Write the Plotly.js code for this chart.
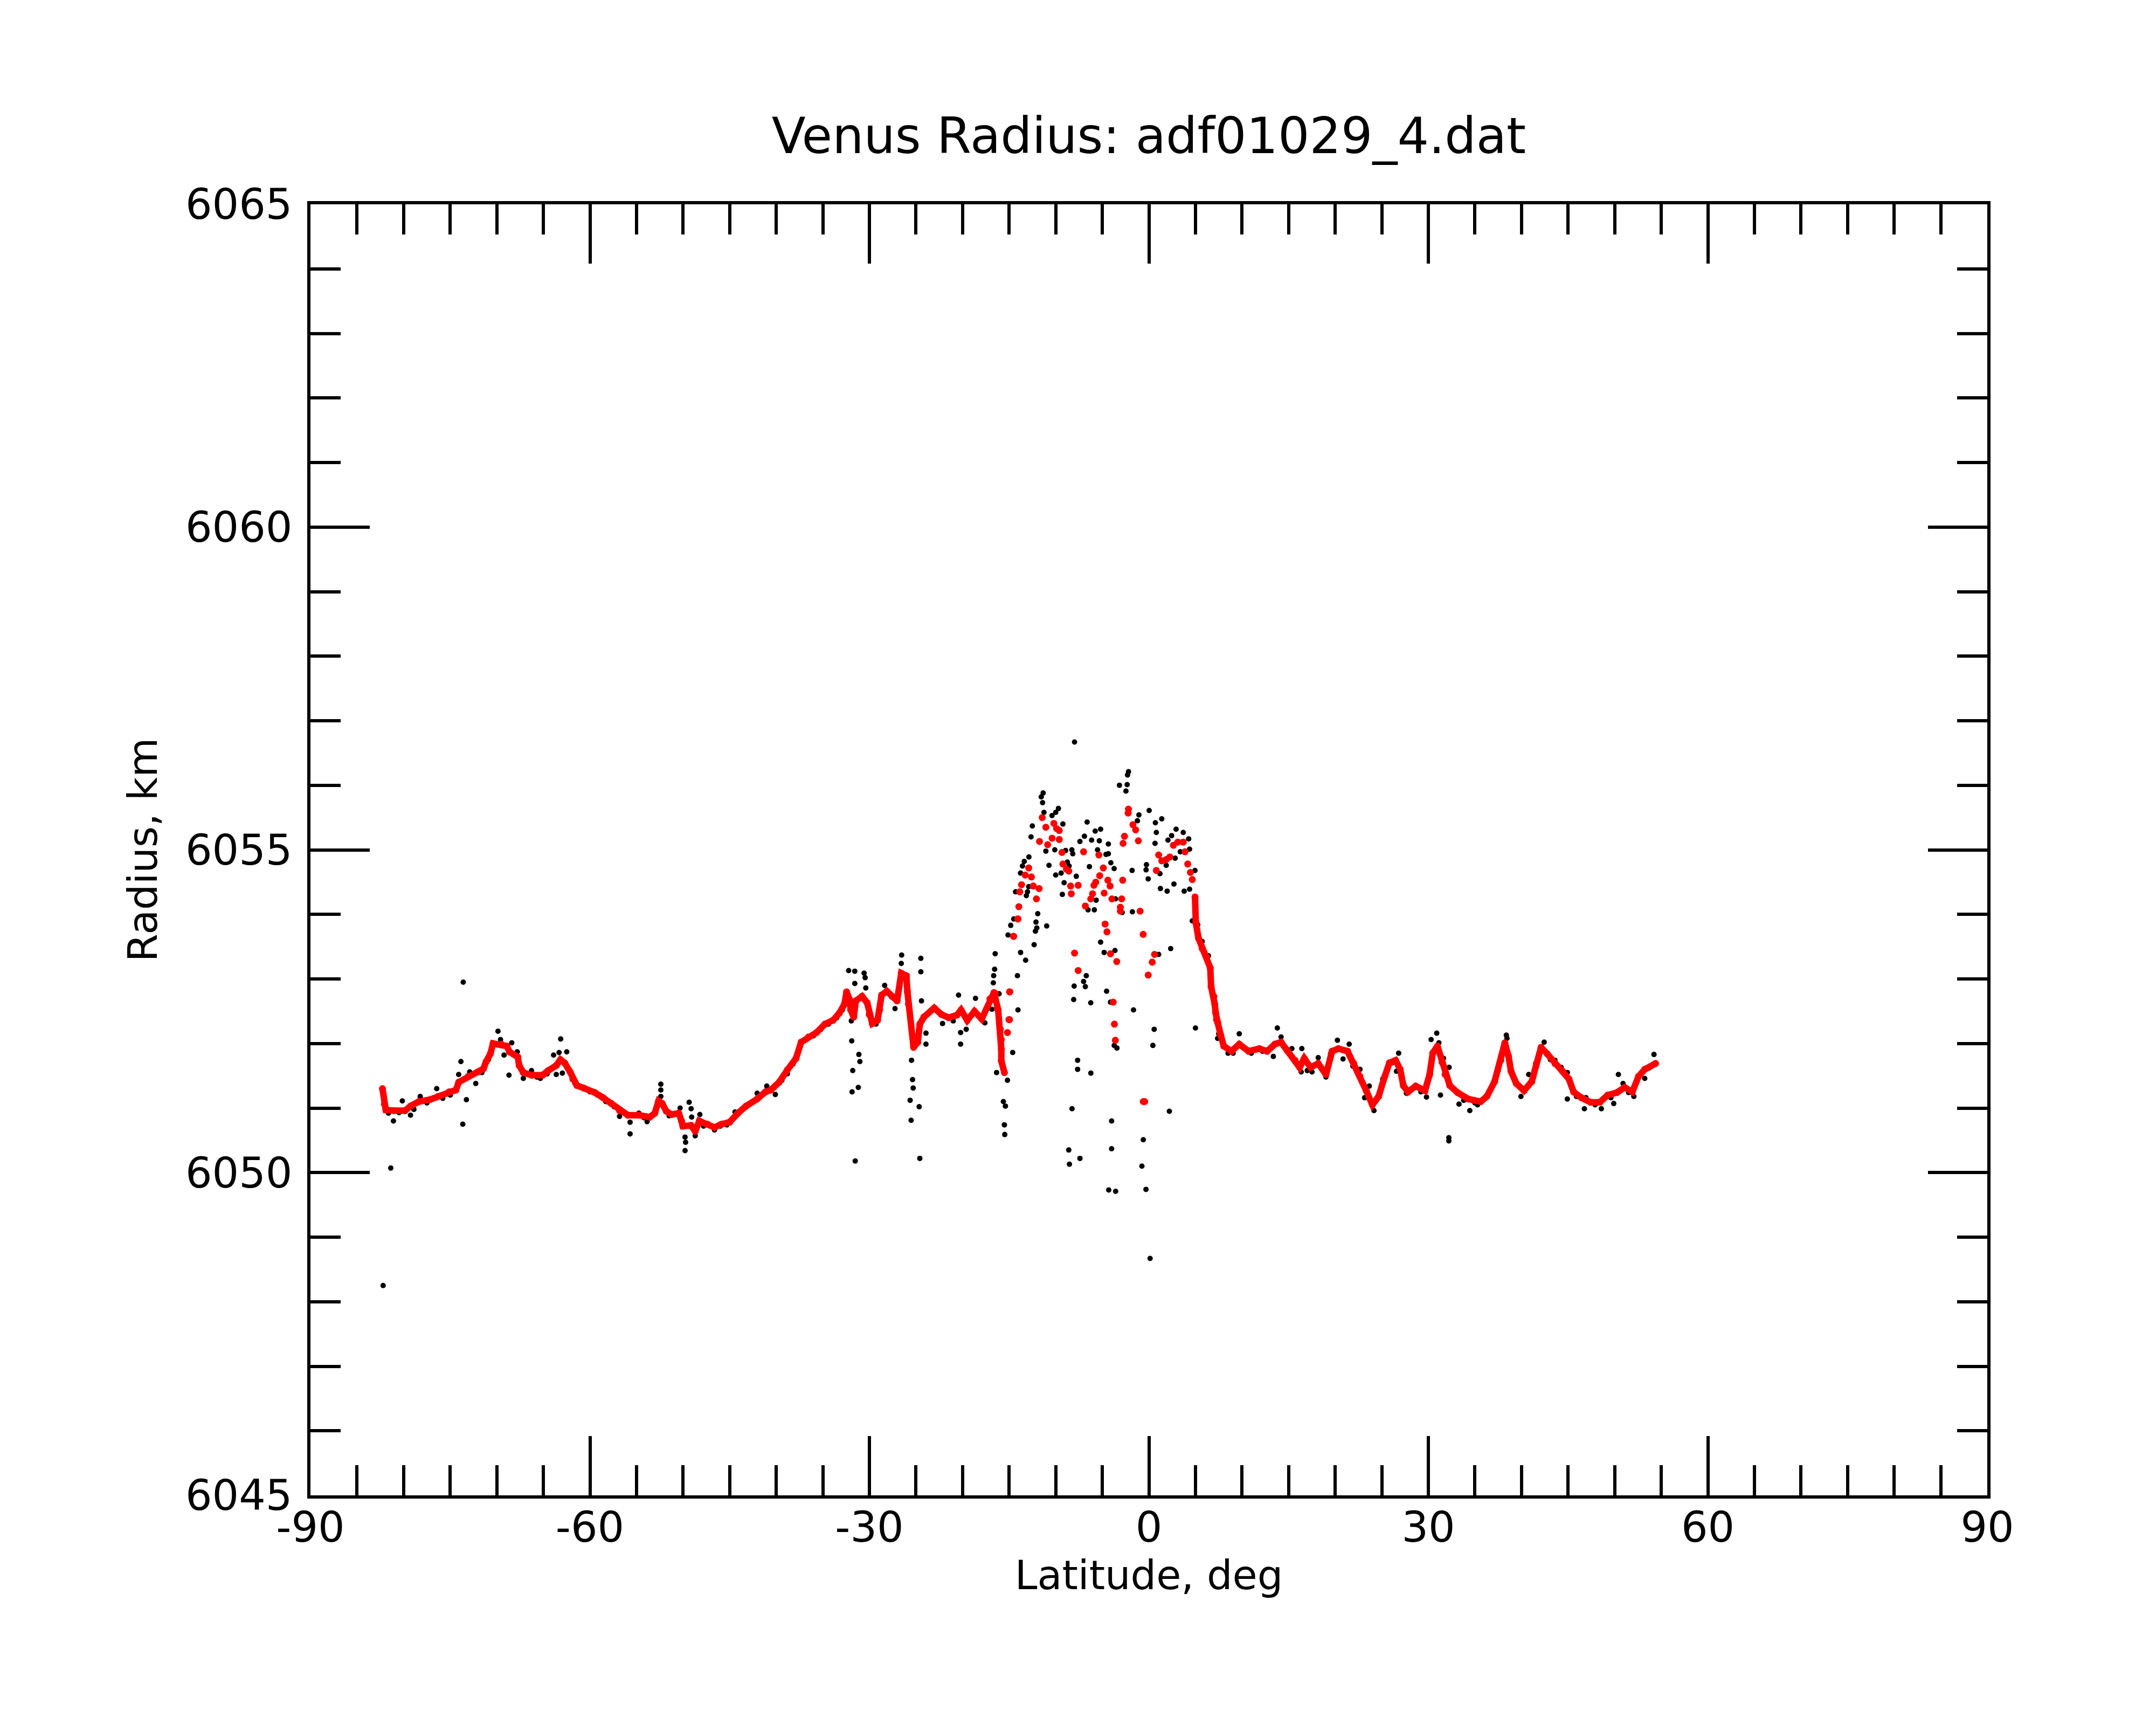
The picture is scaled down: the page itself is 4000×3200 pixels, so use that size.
<!DOCTYPE html>
<html>
<head>
<meta charset="utf-8">
<script src="https://cdn.plot.ly/plotly-3.0.1.min.js"></script>
<style>
  html, body { margin: 0; padding: 0; background: #fff; }
  #chart { width: 4000px; height: 3200px; }
</style>
</head>
<body>
<div id="chart"></div>
<script>
// Axis tick labels (plain hyphen minus, as in the original plot)
var latTicks = [-90, -60, -30, 0, 30, 60, 90];
var latTickText = ['-90', '-60', '-30', '0', '30', '60', '90'];

// Raw radius samples (black dots)
var rawLat = [
  -82.2, -81.62, -81.38, -81.09, -80.5, -80.14, -79.26, -78.9, -78.22, -77.5, -76.45, -75.8, -75.0,
  -74.09, -73.85, -73.65, -73.6, -73.26, -72.91, -72.26, -71.6, -70.9, -69.87, -69.6, -69.22, -68.69,
  -68.39, -67.8, -67.15, -66.27, -65.7, -65.32, -64.6, -63.9, -63.61, -63.31, -63.14, -62.96, -62.49,
  -61.6, -60.95, -60.0, -59.2, -58.3, -57.4, -56.82, -55.69, -55.69, -54.75, -54.2, -53.86, -52.39,
  -52.39, -52.39, -51.5, -50.32, -49.79, -49.73, -49.79, -49.35, -49.14, -49.08, -48.7, -48.2, -47.8,
  -46.63, -46.0, -45.3, -44.42, -43.6, -42.8, -42.05, -41.02, -40.1, -39.4, -38.81, -38.2, -37.6,
  -36.9, -36.0, -35.2, -34.4, -33.5, -32.9,
  -32.23, -31.94, -31.9, -31.86, -31.79, -31.57, -31.57, -31.52, -31.19, -31.13, -31.02, -30.57,
  -30.46, -30.39, -29.9, -29.3, -28.36, -27.25, -26.58, -26.54, -25.63, -25.52, -25.48, -25.37,
  -25.3, -24.66, -24.59, -24.48, -24.48, -24.41, -23.93, -23.93, -23.5, -22.15, -21.0, -20.43,
  -20.21, -20.21, -19.61, -19.0, -18.61, -17.6, -16.35, -15.62, -15.51, -15.47, -15.4, -15.18,
  -14.62, -8.6, -8.53, -8.25, -7.65, -7.65, -7.4,
  -7.98, -2.19, -2.29, -3.16, -2.33, -2.46, -11.35, -11.55, -11.41, -11.26, -9.71, -10.0, -10.4,
  -9.23, -12.51, -12.65, 0.03, -1.07, -1.23, 1.38, 0.7, -6.63, -5.76, -5.18, -6.92, -7.4, -6.15,
  -5.32, -4.35, 0.8, 0.66, 2.92, 3.69, 2.44, 2.05, 4.27, 4.37, 4.95, 3.37, -11.06, -10.1, -8.94,
  -8.27, -8.17, -5.51, -4.6, -4.35, -12.88, -13.38, -13.57, -13.78, -10.72, -8.75, -8.56, -10.0,
  -9.42, -7.79, -6.38, -4.08, -3.73, -1.8, -0.26, -0.3, -0.07, 1.19, 2.82, 1.86, 2.69, 1.24, 1.96,
  3.79, 4.37, 4.66, 5.24, 5.72, 6.01, 6.39, -9.1, -9.29, -12.9, -13.03, -13.15, -14.31, -5.66,
  -6.53, -5.86, -3.58, -2.87, -1.77, -11.93, -12.12, -12.03, -12.18, -10.97, -12.32, -14.5, -14.83,
  -15.12, -16.5, -16.56, -16.66, -16.7, -13.77, -13.23, -14.11, -5.18, -4.8, -3.64, 1.05, 2.34,
  -6.72, -7.01, -6.82, -8.02, -8.07, -6.24, -4.54, -4.12, -1.65, -16.08, -14.05, -16.85, -14.92,
  -6.23, -4.31, -3.57, -4.0, -4.0, -3.72, -3.43, -0.75, -0.6, -0.31, 0.13, 0.43, 0.57, 2.2, 5.0,
  6.9, 7.2, 7.5, 7.38, 8.5, 9.04, 9.7, 11.0, 12.2, 13.36, 13.79, 14.19, 15.35, 16.42, 16.35, 17.0,
  17.51, 18.18, 19.01, 19.5, 20.24, 20.84, 21.5, 21.9, 22.66, 23.16, 23.66, 24.16, 25.1, 26.1,
  26.58, 26.81, 27.64, 28.2, 29.2, 29.8, 30.3, 30.9, 31.13, 31.3, 31.63, 32.23, 32.2, 32.2, 33.29,
  33.8, 34.45, 35.0, 35.29, 36.7, 37.5, 38.37, 38.44, 39.94, 40.77, 41.3, 42.43, 43.1, 43.59,
  44.25, 44.92, 44.92, 45.9, 46.75, 46.92, 47.9, 48.57, 49.6, 49.9, 50.4, 50.9, 51.5, 52.06,
  53.23, 53.7, 54.22
];
var rawRad = [
  6048.25, 6050.92, 6050.07, 6050.80, 6050.93, 6051.11, 6050.89, 6050.98, 6051.18, 6051.08, 6051.30, 6051.15, 6051.20,
  6051.52, 6051.72, 6050.75, 6052.95, 6051.13, 6051.56, 6051.38, 6051.55, 6051.75, 6052.19, 6052.06, 6051.82, 6051.51,
  6052.01, 6051.87, 6051.46, 6051.58, 6051.48, 6051.46, 6051.53, 6051.82, 6051.52, 6051.86, 6052.07, 6051.54, 6051.87,
  6051.38, 6051.32, 6051.25, 6051.20, 6051.10, 6051.02, 6050.87, 6050.78, 6050.60, 6050.92, 6050.85, 6050.79, 6051.37,
  6051.28, 6051.18, 6050.88, 6051.00, 6050.55, 6050.47, 6050.34, 6051.09, 6050.99, 6050.86, 6050.57, 6050.90, 6050.72,
  6050.66, 6050.72, 6050.74, 6050.94, 6050.98, 6051.08, 6051.23, 6051.34, 6051.21, 6051.43, 6051.53, 6051.68, 6051.88,
  6052.05, 6052.12, 6052.22, 6052.30, 6052.40, 6052.52,
  6053.13, 6052.35, 6052.04, 6051.25, 6051.58, 6053.12, 6052.93, 6050.18, 6051.32, 6051.83, 6051.72, 6053.09,
  6053.02, 6052.86, 6052.40, 6052.30, 6052.90, 6052.54, 6053.24, 6053.37, 6051.12, 6050.81, 6051.74, 6051.44,
  6051.31, 6051.02, 6050.22, 6053.32, 6053.11, 6052.66, 6052.16, 6051.99, 6052.50, 6052.31, 6052.35, 6052.75,
  6052.17, 6051.99, 6052.22, 6052.45, 6052.70, 6052.32, 6051.55, 6051.10, 6050.74, 6050.59, 6051.03, 6051.43,
  6051.86, 6050.35, 6050.13, 6050.99, 6051.74, 6051.60, 6050.22,
  6056.67, 6056.21, 6056.16, 6056.00, 6056.01, 6055.91, 6055.88, 6055.82, 6055.73, 6055.58, 6055.64, 6055.58, 6055.53,
  6055.40, 6055.37, 6055.20, 6055.61, 6055.54, 6055.45, 6055.48, 6055.42, 6055.43, 6055.29, 6055.32, 6055.21, 6055.13, 6055.15,
  6055.14, 6055.09, 6055.27, 6055.10, 6055.32, 6055.27, 6055.22, 6055.15, 6055.17, 6055.01, 6054.68, 6054.97, 6054.98, 6055.00, 6054.99,
  6055.00, 6054.94, 6055.00, 6054.93, 6054.94, 6054.89, 6054.82, 6054.75, 6054.64, 6054.76, 6054.81, 6054.75, 6054.61,
  6054.64, 6054.59, 6054.74, 6054.80, 6054.71, 6054.68, 6054.77, 6054.69, 6054.55, 6054.63, 6054.87, 6054.76, 6054.47, 6054.40, 6054.36,
  6054.36, 6054.39, 6053.90, 6053.84, 6053.58, 6053.41, 6053.36, 6054.49, 6054.31, 6054.43, 6054.35, 6054.29, 6054.35, 6054.22,
  6054.07, 6054.07, 6054.24, 6054.03, 6054.04, 6054.01, 6053.88, 6053.79, 6053.74, 6053.82, 6053.53, 6053.93, 6053.83,
  6053.68, 6053.39, 6053.15, 6053.05, 6052.94, 6053.41, 6053.29, 6053.05, 6053.57, 6053.41, 6053.44, 6053.38, 6053.47,
  6053.05, 6052.96, 6052.88, 6052.89, 6052.68, 6052.63, 6052.81, 6052.64, 6052.52, 6052.77, 6052.52, 6052.53, 6052.37,
  6051.54, 6049.73, 6049.71, 6050.37, 6050.80, 6051.97, 6051.93, 6050.10, 6050.51, 6049.74, 6048.67, 6051.97, 6052.22, 6050.95, 6052.24,
  6052.70, 6052.40, 6052.15, 6052.08, 6051.85, 6051.85, 6052.15, 6051.85, 6051.88, 6051.80, 6052.24, 6052.10, 6051.92, 6051.92, 6051.56, 6051.58,
  6051.56, 6051.78, 6051.48, 6051.84, 6052.05, 6051.76, 6051.99, 6051.65, 6051.60, 6051.16, 6051.34, 6050.96, 6051.45, 6051.70,
  6051.57, 6051.85, 6051.23, 6051.28, 6051.25, 6051.17, 6052.06, 6052.16, 6052.01, 6051.20, 6051.77, 6051.63, 6050.54, 6050.49, 6051.06,
  6051.12, 6050.96, 6051.08, 6051.05, 6051.28, 6051.58, 6052.13, 6052.08, 6051.18, 6051.52, 6051.48, 6052.02, 6051.75, 6051.74,
  6051.63, 6051.55, 6051.14, 6051.18, 6050.99, 6051.16, 6051.05, 6050.99, 6051.16, 6051.07, 6051.52, 6051.38, 6051.24, 6051.18,
  6051.46, 6051.62, 6051.83
];

// Smoothed radius, southern part (red)
var southLat = [
  -82.27, -82.06, -81.91, -81.03, -79.85, -79.26, -78.37, -77.19, -76.30, -75.12, -74.38, -74.09, -73.06,
  -72.02, -71.43, -71.14, -70.69, -70.40, -69.51, -68.92, -68.63, -67.74, -67.60, -67.15, -66.27, -65.08,
  -64.49, -63.61, -63.17, -62.72, -62.13, -61.84, -61.40, -60.66, -59.47, -58.59, -57.70, -56.82, -55.93,
  -54.75, -53.57, -53.04, -52.63, -52.24, -51.80, -51.21, -50.47, -50.17, -50.03, -49.14, -48.70, -48.26,
  -47.37, -46.63, -45.89, -45.01, -44.12, -43.24, -42.05, -41.17, -40.58, -39.69, -38.81, -37.88, -37.33,
  -36.55, -35.67, -34.78, -33.90, -33.23, -32.68, -32.45, -32.12, -32.01, -31.68, -31.46, -30.79, -30.24,
  -30.02, -29.69, -29.13, -28.91, -28.69, -28.13, -27.58, -27.03, -26.58, -26.03, -25.92, -25.81, -25.26,
  -24.81, -24.59, -24.15, -23.04, -22.27, -21.49, -20.60, -20.16, -19.50, -18.72, -17.95, -17.06, -16.62,
  -16.18, -15.95, -15.84, -15.84, -15.84, -15.51
];
var southRad = [
  6051.30, 6051.06, 6050.97, 6050.96, 6050.96, 6051.03, 6051.10, 6051.13, 6051.18, 6051.25, 6051.28, 6051.40, 6051.49,
  6051.56, 6051.61, 6051.72, 6051.84, 6052.00, 6051.99, 6051.96, 6051.87, 6051.79, 6051.66, 6051.55, 6051.51, 6051.51,
  6051.58, 6051.66, 6051.75, 6051.70, 6051.56, 6051.45, 6051.35, 6051.31, 6051.24, 6051.16, 6051.07, 6050.96, 6050.89,
  6050.89, 6050.86, 6050.92, 6051.11, 6051.07, 6050.95, 6050.90, 6050.92, 6050.80, 6050.72, 6050.73, 6050.64, 6050.80,
  6050.75, 6050.70, 6050.75, 6050.78, 6050.92, 6051.03, 6051.14, 6051.25, 6051.28, 6051.40, 6051.59, 6051.77, 6052.02,
  6052.10, 6052.17, 6052.30, 6052.36, 6052.47, 6052.61, 6052.80, 6052.68, 6052.52, 6052.41, 6052.66, 6052.73, 6052.63,
  6052.45, 6052.31, 6052.36, 6052.52, 6052.75, 6052.81, 6052.73, 6052.66, 6053.09, 6053.05, 6052.80, 6052.61, 6051.94,
  6052.02, 6052.30, 6052.41, 6052.55, 6052.45, 6052.40, 6052.44, 6052.52, 6052.36, 6052.50, 6052.38, 6052.69, 6052.79,
  6052.52, 6052.22, 6052.06, 6051.91, 6051.73, 6051.55
];

// Smoothed radius, equatorial highland (red, scattered)
var peakLat = [
  -15.18, -14.96, -14.96, -14.51, -14.07, -11.45, -11.06, -10.20, -9.91, -9.62, -10.39, -9.62, -11.74,
  -10.87, -9.33, -9.23, -8.85, -8.60, -12.90, -13.28, -12.61, -13.67, -13.86, -12.41, -11.78, -12.07,
  -13.96, -14.05, -14.54, -14.92, -16.47, -16.27, -15.02, -8.40, -7.59, -8.33, -7.01, -6.82, -6.24,
  -6.05, -5.90, -5.70, -5.28, -4.89, -5.37, -4.41, -4.16, -4.80, -3.97, -2.92, -3.06, -3.06, -2.81,
  -0.94, -4.70, -4.50, -7.98, -7.59, -4.12, -3.45, -3.83, -3.70, -3.60, -0.61, -0.60, -0.45, 0.61,
  0.36, -0.07, -2.19, -2.23, -1.71, -1.42, -2.62, -2.77, -1.13, 1.05, 1.38, 1.86, 2.25, 0.80, 2.63,
  3.11, 3.69, 3.88, 4.17, 4.46, 4.66
];
var peakRad = [
  6052.17, 6052.37, 6052.80, 6053.66, 6053.93, 6055.50, 6055.35, 6055.41, 6055.33, 6055.30, 6055.18, 6055.16, 6055.13,
  6055.08, 6054.96, 6054.78, 6054.70, 6054.67, 6054.72, 6054.61, 6054.58, 6054.46, 6054.35, 6054.44, 6054.40, 6054.24,
  6054.12, 6053.93, 6053.66, 6052.80, 6052.77, 6052.54, 6052.37, 6054.44, 6054.45, 6054.32, 6054.97, 6054.13, 6054.24,
  6054.32, 6054.45, 6054.50, 6054.60, 6054.72, 6054.92, 6054.53, 6054.44, 6054.33, 6054.24, 6054.24, 6054.11, 6054.05, 6054.53,
  6054.05, 6053.85, 6053.73, 6053.40, 6053.13, 6053.39, 6053.27, 6052.64, 6052.30, 6052.05, 6053.69, 6051.10, 6051.10, 6053.38,
  6053.26, 6053.06, 6055.63, 6055.57, 6055.39, 6055.31, 6055.21, 6055.10, 6055.14, 6054.92, 6054.83, 6054.85, 6054.89, 6054.68, 6055.07,
  6055.12, 6055.12, 6054.97, 6054.78, 6054.65, 6054.54
];

// Smoothed radius, northern part (red)
var northLat = [
  4.95, 5.04, 5.33, 5.72, 6.20, 6.59, 6.68, 6.97, 7.07, 7.16, 7.26, 7.38, 7.71, 8.04, 8.87, 9.70, 10.70,
  11.86, 12.69, 13.53, 14.19, 14.85, 15.69, 16.18, 16.68, 17.35, 18.18, 19.01, 19.67, 20.34, 21.33,
  22.00, 22.66, 23.33, 23.99, 24.66, 25.32, 25.82, 26.48, 26.98, 27.31, 27.81, 28.64, 29.64, 30.14,
  30.47, 30.97, 31.47, 31.80, 32.30, 33.13, 34.29, 35.62, 36.28, 37.11, 37.78, 38.21, 38.61, 38.87,
  39.44, 40.27, 41.10, 41.60, 42.10, 42.76, 43.59, 44.42, 45.09, 45.59, 46.42, 47.41, 48.41, 49.24,
  50.24, 51.07, 51.90, 52.56, 53.23, 54.39
];
var northRad = [
  6054.27, 6053.87, 6053.63, 6053.47, 6053.34, 6053.17, 6052.88, 6052.73, 6052.61, 6052.48, 6052.37, 6052.33, 6052.13, 6051.96, 6051.88, 6051.99, 6051.88,
  6051.92, 6051.88, 6051.99, 6052.02, 6051.89, 6051.74, 6051.63, 6051.77, 6051.63, 6051.69, 6051.52, 6051.88, 6051.92, 6051.88,
  6051.69, 6051.49, 6051.27, 6051.05, 6051.18, 6051.49, 6051.70, 6051.74, 6051.60, 6051.35, 6051.25, 6051.34, 6051.27, 6051.52,
  6051.85, 6051.96, 6051.71, 6051.52, 6051.35, 6051.24, 6051.14, 6051.10, 6051.18, 6051.41, 6051.74, 6052.01, 6051.80, 6051.57,
  6051.38, 6051.27, 6051.41, 6051.69, 6051.94, 6051.84, 6051.69, 6051.57, 6051.45, 6051.25, 6051.16, 6051.09, 6051.09, 6051.20,
  6051.24, 6051.32, 6051.25, 6051.49, 6051.60, 6051.69
];

var RED = 'rgb(255,0,0)';
var FONT = 'DejaVu Sans, Liberation Sans, sans-serif';

var data = [
    // Raw samples
    {
        x: rawLat, y: rawRad, type: 'scatter', mode: 'markers',
        marker: {color: 'black', size: 10}
    },
    // Smoothed, south
    {
        x: southLat, y: southRad, type: 'scatter', mode: 'lines+markers',
        line: {color: RED, width: 12}, marker: {color: RED, size: 13}
    },
    // Smoothed, highland
    {
        x: peakLat, y: peakRad, type: 'scatter', mode: 'markers',
        marker: {color: RED, size: 13}
    },
    // Smoothed, north
    {
        x: northLat, y: northRad, type: 'scatter', mode: 'lines+markers',
        line: {color: RED, width: 12}, marker: {color: RED, size: 13}
    }
];

var axisCommon = {
    showgrid: false, zeroline: false, showline: true, linecolor: 'black', linewidth: 6,
    mirror: 'allticks', ticks: 'inside', ticklen: 110, tickwidth: 6, tickcolor: 'black',
    tickfont: {family: FONT, size: 78, color: 'black'}
};

var layout = {
    width: 4000, height: 3200,
    paper_bgcolor: 'white', plot_bgcolor: 'white',
    showlegend: false,
    margin: {l: 576, r: 313, t: 379, b: 426},
    title: {
        text: 'Venus Radius: adf01029_4.dat',
        font: {family: FONT, size: 92, color: 'black'},
        x: 0.5, xref: 'paper', y: 1 - 252 / 3200, yref: 'container', yanchor: 'middle'
    },
    xaxis: Object.assign({}, axisCommon, {
        range: [-90, 90], tickmode: 'array', tickvals: latTicks, ticktext: latTickText,
        minor: {dtick: 5, tick0: -90, ticks: 'inside', ticklen: 56, tickwidth: 6, tickcolor: 'black', showgrid: false},
        ticklabelstandoff: -14,
        title: {text: 'Latitude, deg', font: {family: FONT, size: 75, color: 'black'}, standoff: 0}
    }),
    yaxis: Object.assign({}, axisCommon, {
        range: [6045, 6065], tickmode: 'linear', tick0: 6045, dtick: 5,
        minor: {dtick: 1, tick0: 6045, ticks: 'inside', ticklen: 56, tickwidth: 6, tickcolor: 'black', showgrid: false},
        ticklabelstandoff: 12,
        title: {text: 'Radius, km', font: {family: FONT, size: 75, color: 'black'}, standoff: 30}
    })
};

Plotly.newPlot('chart', data, layout, {displayModeBar: false, staticPlot: true});
</script>
</body>
</html>
